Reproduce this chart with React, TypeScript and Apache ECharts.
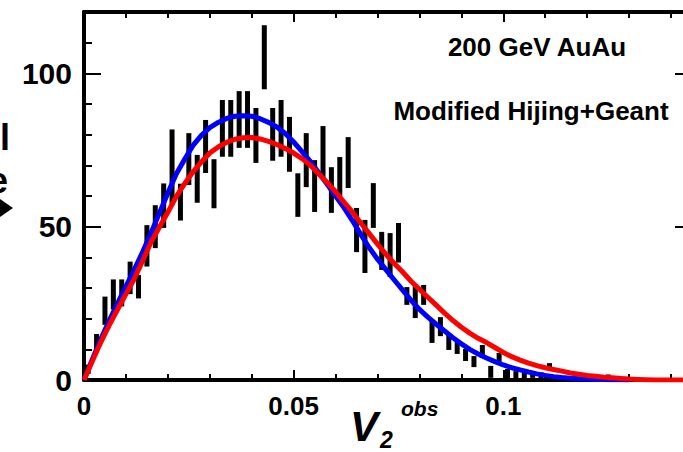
import React, { useEffect, useRef } from "react";
import * as echarts from "echarts";

// ---- axis ranges / ticks ----
const xMin = 0;
const xMax = 0.145;
const yMin = 0;
const yMax = 120;
const xMajor = 0.05;
const xMinor = 0.01;
const yMajor = 50;
const yMinor = 10;

// ---- data points (black error bars): bin centre, low, high ----
const dataX = [
  0.001, 0.003, 0.005, 0.007, 0.009, 0.011, 0.013, 0.015, 0.017, 0.019,
  0.021, 0.023, 0.025, 0.027, 0.029, 0.031, 0.033, 0.035, 0.037, 0.039,
  0.041, 0.043, 0.045, 0.047, 0.049, 0.051, 0.053, 0.055, 0.057, 0.059,
  0.061, 0.063, 0.065, 0.067, 0.069, 0.071, 0.073, 0.075, 0.077, 0.079,
  0.081, 0.083, 0.085, 0.087, 0.089, 0.091, 0.093, 0.095, 0.097, 0.099,
  0.101, 0.103, 0.105, 0.107, 0.109, 0.111, 0.125,
];
const dataLo = [
  2, 9, 18, 23, 24, 28, 26.6, 37, 43, 49.6,
  57, 52, 63.6, 57.8, 67.5, 56, 72.8, 72.8, 75.7, 75.7,
  70.8, 94.8, 71.5, 72.8, 67.9, 53.2, 62.9, 54.8, 66, 54.5,
  58.7, 62.6, 41.7, 34.9, 49.6, 35.9, 33.6, 38.3, 24.5, 20.2,
  24.5, 12.1, 14.3, 9.8, 8.5, 6.2, 4.2, 7.2, 0.7, 5.9,
  0, 0, 0, 0.7, 0.5, 3.3, 1,
];
const dataHi = [
  5, 15, 27.2, 32.8, 32.8, 38.6, 34.2, 50.5, 57, 64.1,
  81.7, 64, 80.5, 73.4, 84.8, 72, 91.3, 91.3, 94.2, 94.2,
  88.7, 115.7, 88.7, 91.3, 85.8, 67.4, 80.5, 71.7, 82.8, 69.4,
  72.7, 79.2, 56.1, 52.2, 64.2, 48.3, 47.9, 51.2, 30.3, 30.6,
  31, 19.6, 20.5, 14.7, 12.4, 10.1, 7.8, 11.4, 4.6, 8.8,
  3.6, 2.9, 2.3, 2.3, 2.5, 5.5, 1.8,
];

// ---- simulation curves ----
const curveX = [
  0, 0.002, 0.004, 0.006, 0.008, 0.01, 0.012, 0.014, 0.016, 0.018,
  0.02, 0.022, 0.024, 0.026, 0.028, 0.03, 0.032, 0.034, 0.036, 0.038,
  0.04, 0.042, 0.044, 0.046, 0.048, 0.05, 0.052, 0.054, 0.056, 0.058,
  0.06, 0.062, 0.064, 0.066, 0.068, 0.07, 0.072, 0.074, 0.076, 0.078,
  0.08, 0.082, 0.084, 0.086, 0.088, 0.09, 0.092, 0.094, 0.096, 0.098,
  0.1, 0.102, 0.104, 0.106, 0.108, 0.11, 0.112, 0.114, 0.116, 0.118,
  0.12, 0.122, 0.124, 0.126, 0.128, 0.13, 0.132, 0.134, 0.136, 0.138,
  0.14, 0.142, 0.144,
];
const redY = [
  0, 6.2, 12.3, 17.8, 23.0, 28.0, 33.0, 38.9, 45.0, 49.9,
  54.7, 59.8, 64.0, 67.9, 71.1, 74.0, 76.0, 77.5, 78.5, 79.0,
  79.1, 78.6, 77.8, 76.8, 75.5, 74.0, 72.2, 70.0, 67.2, 64.4,
  61.4, 58.0, 54.8, 51.2, 47.8, 44.3, 41.0, 38.0, 35.2, 32.2,
  29.6, 27.0, 24.4, 21.8, 19.4, 17.2, 15.3, 13.6, 12.2, 10.6,
  9.0, 7.6, 6.5, 5.5, 4.7, 4.0, 3.4, 2.9, 2.3, 1.9,
  1.5, 1.2, 0.9, 0.7, 0.5, 0.3, 0.2, 0.1, 0, 0,
  0, 0, 0,
];
const blueY = [
  0, 6.8, 13.3, 19.3, 25.0, 30.5, 36.0, 41.8, 48.0, 54.5,
  61.0, 67.2, 72.0, 76.5, 79.8, 82.3, 84.0, 85.3, 86.0, 86.2,
  86.0, 85.2, 84.0, 82.5, 80.4, 77.6, 74.5, 71.2, 67.6, 63.8,
  60.0, 56.2, 52.0, 47.5, 43.2, 39.4, 36.0, 32.6, 29.3, 26.0,
  23.0, 20.5, 18.2, 16.0, 13.8, 11.8, 10.0, 8.5, 7.2, 6.0,
  4.9, 4.0, 3.3, 2.6, 2.0, 1.5, 1.1, 0.8, 0.6, 0.4,
  0.3, 0.2, 0.2, 0.1, 0.1, 0,
];

const FONT = '"Liberation Sans", Arial, Helvetica, sans-serif';

function makeX(position: "bottom" | "top", interval: number, len: number, labels: boolean, line: boolean) {
  return {
    type: "value",
    position,
    min: xMin,
    max: xMax,
    interval,
    splitLine: { show: false },
    axisLine: { show: line, onZero: false, lineStyle: { color: "#000", width: 4 } },
    axisTick: { show: true, inside: true, length: len, lineStyle: { color: "#000", width: 2 } },
    axisLabel: labels
      ? {
          show: true,
          showMaxLabel: false,
          color: "#000",
          fontFamily: FONT,
          fontWeight: "bold",
          fontSize: 26,
          margin: 13,
        }
      : { show: false },
  };
}

function makeY(position: "left" | "right", interval: number, len: number, labels: boolean, line: boolean) {
  return {
    type: "value",
    position,
    min: yMin,
    max: yMax,
    interval,
    splitLine: { show: false },
    axisLine: { show: line, onZero: false, lineStyle: { color: "#000", width: 4 } },
    axisTick: { show: true, inside: true, length: len, lineStyle: { color: "#000", width: 2 } },
    axisLabel: labels
      ? {
          show: true,
          showMaxLabel: false,
          color: "#000",
          fontFamily: FONT,
          fontWeight: "bold",
          fontSize: 30,
          margin: 12,
          padding: [6, 0, 0, 0],
        }
      : { show: false },
  };
}

function txt(text: string, x: number, y: number, font: string, align: string) {
  return {
    type: "text",
    x,
    y,
    z: 100,
    style: {
      text,
      font,
      fill: "#000",
      textAlign: align,
      textVerticalAlign: "middle",
      align,
      verticalAlign: "middle",
    },
  };
}

export default function App() {
  const ref = useRef<HTMLDivElement>(null);
  useEffect(() => {
    document.body.style.margin = "0";
    if (!ref.current) return;
    const chart = echarts.init(ref.current, undefined, { renderer: "svg" });

    const barData = dataX.map((x, i) => [x, dataLo[i], dataHi[i]]);
    const redData = curveX.map((x, i) => [x, redY[i]]);
    const blueData = blueY.map((y, i) => [curveX[i], y]);

    chart.setOption({
      animation: false,
      backgroundColor: "#fff",
      grid: { left: 84, right: -9, top: 12, bottom: 72, containLabel: false, outerBoundsMode: "none" },
      xAxis: [
        makeX("bottom", xMajor, 10, true, true),
        makeX("bottom", xMinor, 6, false, false),
        makeX("top", xMajor, 10, false, true),
        makeX("top", xMinor, 6, false, false),
      ],
      yAxis: [
        makeY("left", yMajor, 17, true, true),
        makeY("left", yMinor, 8, false, false),
        makeY("right", yMajor, 17, false, true),
        makeY("right", yMinor, 8, false, false),
      ],
      series: [
        {
          type: "custom",
          name: "data",
          xAxisIndex: 0,
          yAxisIndex: 0,
          clip: true,
          z: 2,
          encode: { x: 0, y: [1, 2] },
          data: barData,
          renderItem: (params: any, api: any) => {
            const x = api.value(0);
            const top = api.coord([x, api.value(2)]);
            const bot = api.coord([x, api.value(1)]);
            return {
              type: "rect",
              shape: { x: top[0] - 2.5, y: top[1], width: 5, height: bot[1] - top[1] },
              style: { fill: "#000" },
            };
          },
        },
        {
          type: "line",
          name: "blue",
          xAxisIndex: 0,
          yAxisIndex: 0,
          z: 3,
          data: blueData,
          showSymbol: false,
          symbol: "none",
          lineStyle: { color: "#0000ff", width: 5 },
        },
        {
          type: "line",
          name: "red",
          xAxisIndex: 0,
          yAxisIndex: 0,
          z: 4,
          data: redData,
          showSymbol: false,
          symbol: "none",
          lineStyle: { color: "#ff0000", width: 5 },
        },
      ],
      graphic: [
        txt("200 GeV AuAu", 537, 47, `bold 26px ${FONT}`, "center"),
        txt("Modified Hijing+Geant", 531, 111, `bold 26px ${FONT}`, "center"),
        txt("V", 364, 426, `italic bold 42px ${FONT}`, "center"),
        txt("2", 380, 440, `italic bold 23px ${FONT}`, "left"),
        txt("obs", 401, 408, `italic bold 21px ${FONT}`, "left"),
        txt("l", 10, 137, `bold 36px ${FONT}`, "right"),
        txt("e", 8, 180, `bold 36px ${FONT}`, "right"),
        {
          type: "polygon",
          z: 100,
          shape: { points: [[0, 199], [13, 208], [0, 217]] },
          style: { fill: "#000" },
        },
      ],
    });
    return () => chart.dispose();
  }, []);
  return (
    <div
      ref={ref}
      style={{ position: "fixed", left: 0, top: 0, width: 683, height: 452, background: "#fff" }}
    />
  );
}
